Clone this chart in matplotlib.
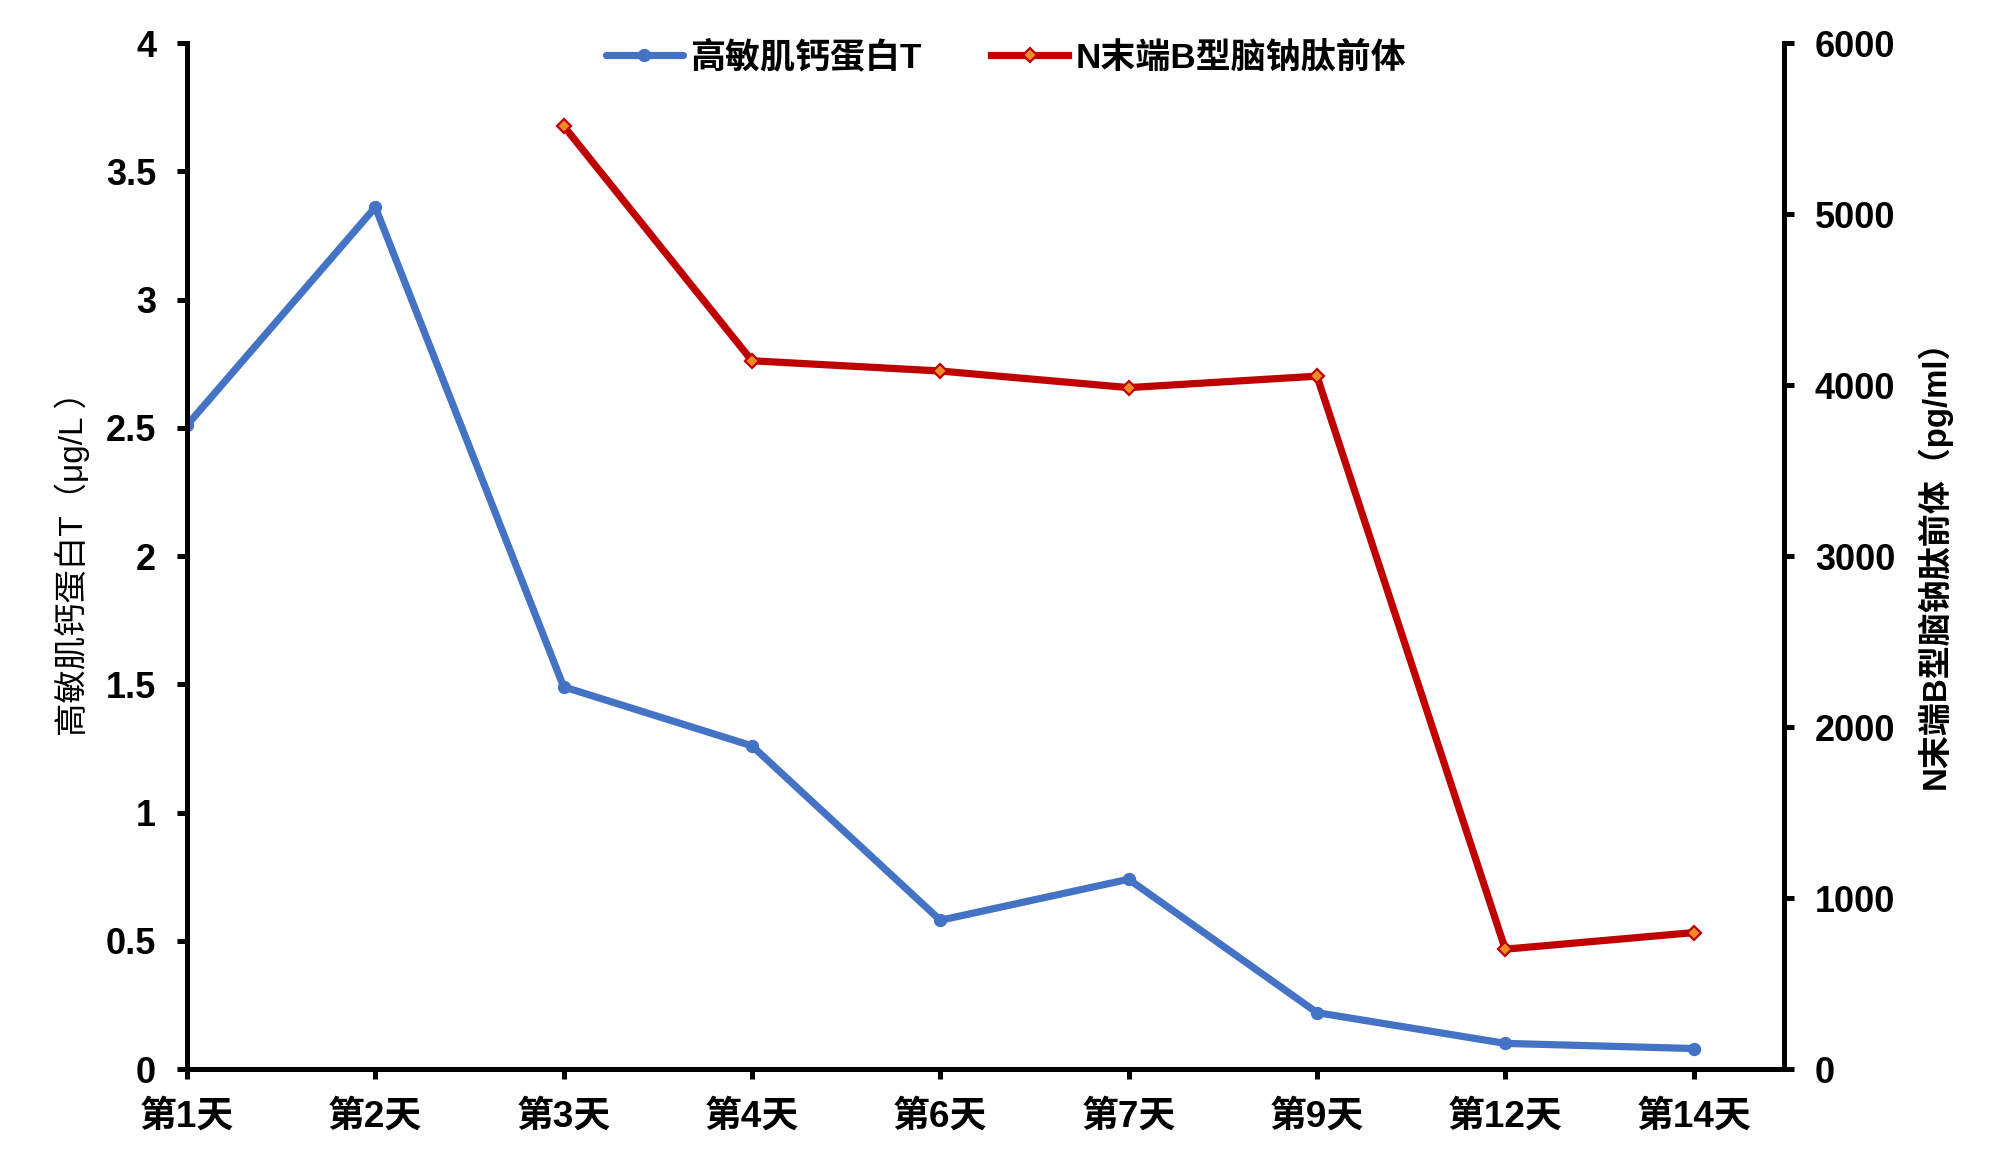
import matplotlib
matplotlib.use("Agg")
import matplotlib.pyplot as plt
import numpy as np

plt.rcParams['font.family'] = ['Liberation Sans', 'Noto Sans CJK SC', 'DejaVu Sans']

days = ['第1天', '第2天', '第3天', '第4天', '第6天', '第7天', '第9天', '第12天', '第14天']
hs_ctnt = [2.51, 3.36, 1.49, 1.26, 0.58, 0.74, 0.22, 0.10, 0.08]
nt_probnp = [np.nan, np.nan, 5515, 4142, 4082, 3985, 4052, 701, 798]
left_ticks = [0, 0.5, 1, 1.5, 2, 2.5, 3, 3.5, 4]
left_tick_labels = ['0', '0.5', '1', '1.5', '2', '2.5', '3', '3.5', '4']
right_ticks = [0, 1000, 2000, 3000, 4000, 5000, 6000]

blue = '#4472C4'
red = '#C00000'

fig = plt.figure(figsize=(10, 5.755), dpi=200)
ax = fig.add_axes([0.0935, 0.0712, 0.7985, 0.8914])
ax2 = ax.twinx()

x = np.arange(len(days))
l1, = ax.plot(x, hs_ctnt, color=blue, lw=2.6, marker='o', ms=3.8,
              mfc=blue, mec=blue, label='高敏肌钙蛋白T', solid_capstyle='round')
l2, = ax2.plot(x, nt_probnp, color=red, lw=2.6, marker='D', ms=3.4,
               mfc='#F08C28', mec=red, mew=0.8, label='N末端B型脑钠肽前体')

ax.set_xlim(0, 8.48)
ax.set_ylim(0, 4)
ax2.set_ylim(0, 6000)
ax.set_xticks(x)
ax.set_xticklabels(days, fontsize=13.3, fontweight='bold')
ax.set_yticks(left_ticks)
ax.set_yticklabels(left_tick_labels, fontsize=13, fontweight='bold')
ax2.set_yticks(right_ticks)
ax2.set_yticklabels([str(v) for v in right_ticks], fontsize=13, fontweight='bold')

for a in (ax, ax2):
    a.spines['top'].set_visible(False)
    for s in ('left', 'right', 'bottom'):
        a.spines[s].set_linewidth(1.8)
    a.tick_params(axis='y', width=1.8, length=3.6, direction='out', pad=7.5)
ax.tick_params(axis='x', width=1.8, length=3.6, direction='out', pad=7.5)
ax.spines['right'].set_visible(False)
ax2.spines['left'].set_visible(False)
ax2.spines['bottom'].set_visible(False)

ax.set_ylabel('高敏肌钙蛋白T（μg/L ）', fontsize=12)
ax.yaxis.set_label_coords(-0.061, 0.5)
ax2.set_ylabel('N末端B型脑钠肽前体（pg/ml）', fontsize=11.9, fontweight='bold')
ax2.yaxis.set_label_coords(1.083, 0.5)

leg = fig.legend(handles=[l1, l2], loc='center', bbox_to_anchor=(0.503, 0.950),
                 ncol=2, frameon=False, prop={'size': 12.6, 'weight': 'bold'},
                 handlelength=2.2, handletextpad=0.2, columnspacing=2.0)

fig.savefig('out.png', dpi=200)
